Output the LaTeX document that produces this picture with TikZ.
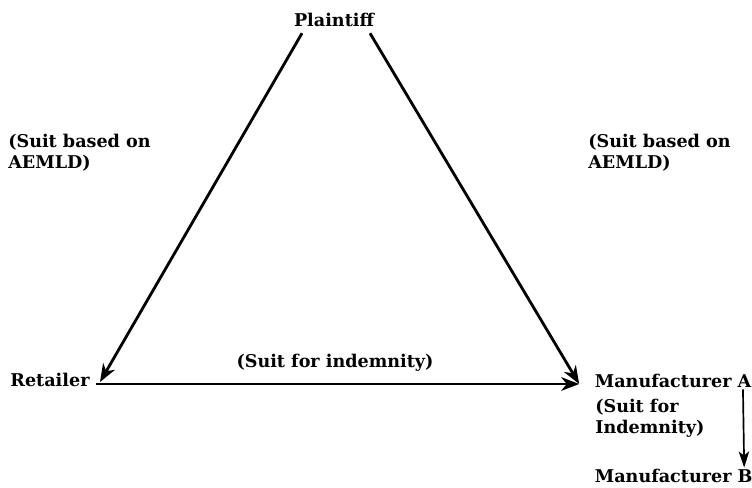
\documentclass[tikz,border=0pt]{standalone}
\usepackage{fontspec}
\setmainfont{DejaVu Serif}
\usetikzlibrary{arrows.meta}

\begin{document}
\begin{tikzpicture}[
    party/.style={font=\fontsize{12.5}{15}\selectfont\bfseries, inner sep=1pt},
    note/.style={font=\fontsize{12.5}{15}\selectfont\bfseries, align=left, inner sep=0pt},
    suit/.style={line width=2pt, -{Stealth[length=4.5mm,width=3.4mm,inset=1.4mm]}},
    chain/.style={line width=1.2pt, -{Stealth[length=4mm,width=2.6mm,inset=1mm]}}
    ]
    \useasboundingbox (0,0) rectangle (18.8,-12.175);
    \node[party] (plaintiff) at (8.35,-0.49) {Plaintiff};
    \node[party] (retailer) at (1.25,-9.5) {Retailer};
    \node[party, anchor=west] (mfra) at (14.83,-9.52) {Manufacturer A};
    \node[party, anchor=west] (mfrb) at (14.83,-11.9) {Manufacturer B};
    \node[note, anchor=north west] (leftnote) at (0.2,-3.35) {(Suit based on\\AEMLD)};
    \node[note, anchor=north west] (rightnote) at (14.7,-3.35) {(Suit based on\\AEMLD)};
    \node[note, anchor=north west] (chainnote) at (14.875,-9.98) {(Suit for\\Indemnity)};
    \node[note] (midnote) at (8.375,-9.08) {(Suit for indemnity)};
    \draw[suit] ([shift={(-0.8,-0.34)}]plaintiff.center) -- ([shift={(1.25,-0.05)}]retailer.center);
    \draw[suit] ([shift={(0.9,-0.34)}]plaintiff.center) -- ([shift={(-0.35,-0.08)}]mfra.west);
    \draw[suit] ([shift={(1.15,-0.1)}]retailer.center) -- ([shift={(-0.35,-0.08)}]mfra.west);
    \draw[chain] ([xshift=-0.25cm]mfra.south east) -- ([xshift=-0.25cm]mfrb.north east);
  \end{tikzpicture}
\end{document}
